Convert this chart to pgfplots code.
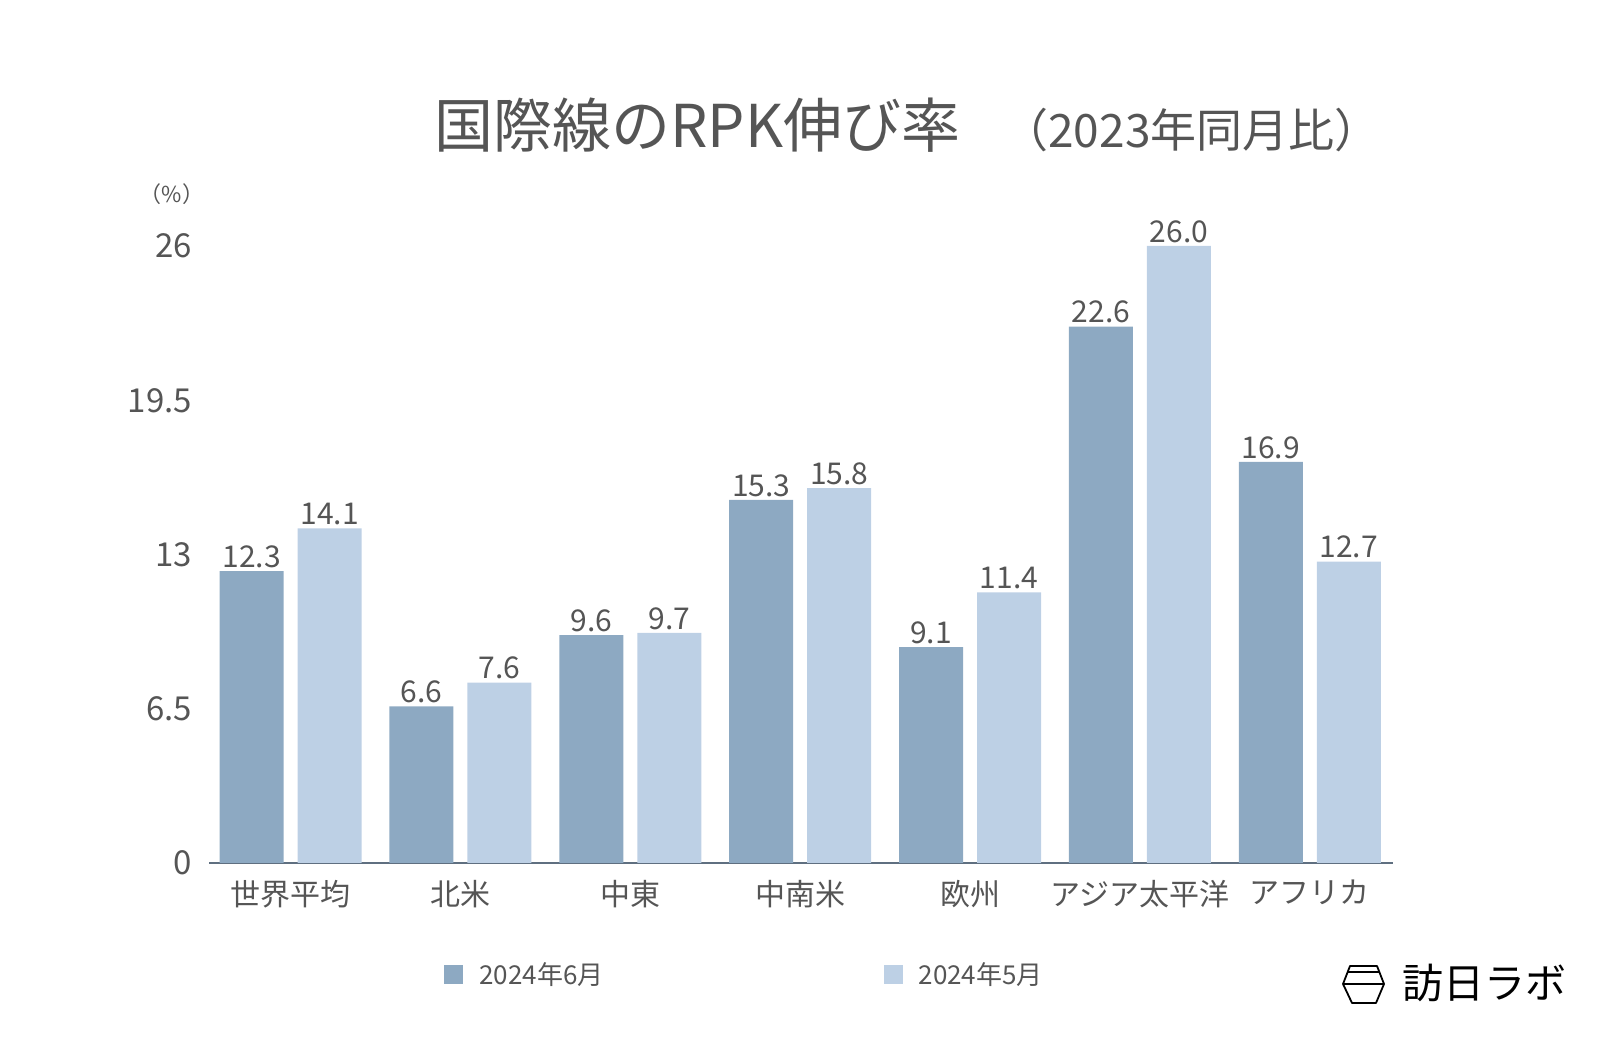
\documentclass[border=0pt]{standalone}
\usepackage{fontspec}
\setmainfont{Noto Sans CJK JP}
\usepackage{pgfplots}
\pgfplotsset{compat=1.18}
\definecolor{darkbar}{HTML}{8DA9C2}
\definecolor{lightbar}{HTML}{BDD0E5}
\definecolor{txt}{HTML}{555555}
\definecolor{axisline}{HTML}{5F6F80}
\begin{document}
\begin{tikzpicture}
\path[use as bounding box] (0,0) rectangle (800pt,524pt);
\begin{axis}[
  at={(104.5pt,92.5pt)}, anchor=south west,
  scale only axis, width=592pt, height=308.5pt,
  ybar=7pt, bar width=32pt,
  xmin=-0.48, xmax=6.49, ymin=0, ymax=26,
  xtick={0,...,6},
  xticklabels={世界平均,北米,中東,中南米,欧州,アジア太平洋,アフリカ},
  ytick={0,6.5,13,19.5,26},
  axis x line*=bottom, axis y line*=left,
  x axis line style={axisline, line width=0.6pt, -},
  y axis line style={draw=none},
  major tick length=0pt,
  /pgf/number format/assume math mode=true,
  xticklabel style={font=\fontsize{15}{16}\selectfont, text=txt, yshift=-5pt},
  yticklabel style={font=\fontsize{16.5}{17}\selectfont, text=txt, xshift=-5pt},
  nodes near coords={\pgfmathprintnumber[fixed,fixed zerofill,precision=1]{\pgfplotspointmeta}},
  every node near coord/.append style={font=\fontsize{15}{16}\selectfont, text=txt, inner sep=1.5pt},
  clip=false,
  legend columns=2,
  legend style={at={(0.1985,-0.1815)}, anchor=west, draw=none, fill=none, inner sep=0pt,
    font=\fontsize{13}{14}\selectfont, text=txt,
    /tikz/every even column/.append style={column sep=138pt},
    /tikz/every odd column/.append style={column sep=6pt}},
  legend image code/.code={\fill[#1] (0pt,-4.75pt) rectangle (9.5pt,4.75pt);},
]
\addplot[fill=darkbar, draw=none] coordinates {(0,12.3) (1,6.6) (2,9.6) (3,15.3) (4,9.1) (5,22.6) (6,16.9)};
\addplot[fill=lightbar, draw=none] coordinates {(0,14.1) (1,7.6) (2,9.7) (3,15.8) (4,11.4) (5,26.0) (6,12.7)};
\legend{2024年6月,2024年5月}
\end{axis}
\node[anchor=base west, text=txt, inner sep=0pt] at (217pt,450pt) {\fontsize{29.5}{32}\selectfont 国際線のRPK伸び率};
\node[anchor=base west, text=txt, inner sep=0pt] at (501pt,450pt) {\fontsize{23}{28}\selectfont （2023年同月比）};
\node[text=txt, inner sep=0pt] at (86pt,427pt) {\fontsize{11}{12}\selectfont （\%）};
\draw[black, line width=0.9pt, line join=round] (675pt,41pt) -- (688.5pt,41pt) -- (692pt,32pt) -- (688pt,22.5pt) -- (676pt,22.5pt) -- (671.5pt,32pt) -- cycle;
\draw[black, line width=0.9pt] (673.5pt,38pt) -- (690pt,38pt);
\draw[black, line width=0.9pt] (671.5pt,32pt) -- (692pt,32pt);
\node[anchor=west, inner sep=0pt, text=black] at (701pt,32.5pt) {\fontsize{20.5}{21}\selectfont 訪日ラボ};
\end{tikzpicture}
\end{document}
